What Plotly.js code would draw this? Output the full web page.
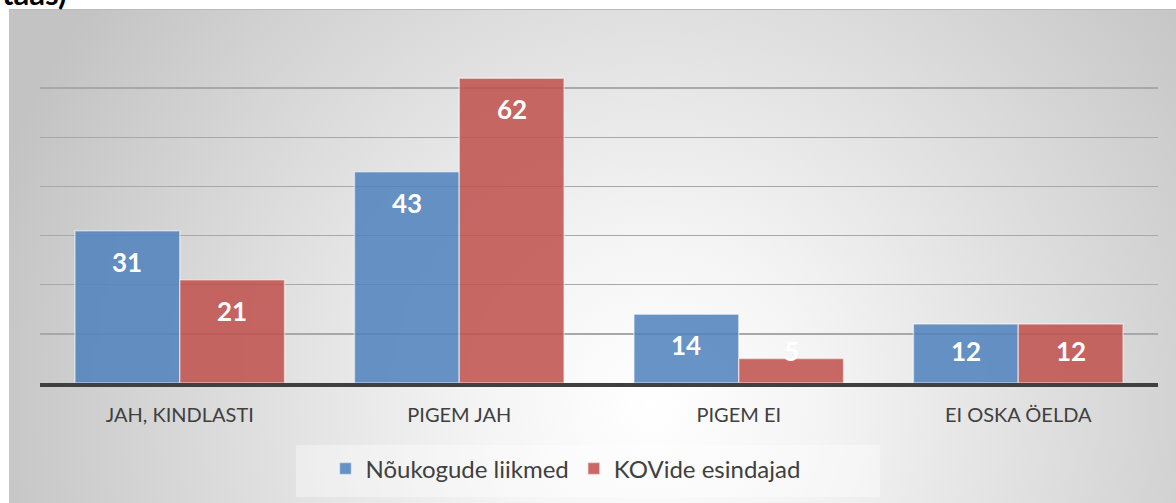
<!DOCTYPE html>
<html><head><meta charset="utf-8">
<script src="https://cdn.plot.ly/plotly-3.0.1.min.js"></script>
<style>
html,body{margin:0;padding:0;background:#fff;width:1176px;height:503px;overflow:hidden}
#bg{position:absolute;left:9px;top:9px;width:1167px;height:494px;background:radial-gradient(circle 690px at 55% 80%, #ffffff 0%, #f4f4f4 25%, #c3c3c3 100%);border-top:1px solid #bbbbbb;box-sizing:border-box}
#chart{position:absolute;left:0;top:0;width:1176px;height:503px}
</style></head><body>
<div id="bg"></div><div id="chart"></div>
<script>
const categories = ["JAH, KINDLASTI", "PIGEM JAH", "PIGEM EI", "EI OSKA ÖELDA"];
const seriesNames = ["Nõukogude liikmed", "KOVide esindajad"];
const noukogudeLiikmed = [31, 43, 14, 12];
const kovideEsindajad = [21, 62, 5, 12];
const titleFragment = "taas)";

const W = 1176, H = 503;
const M = {l: 40, r: 18, t: 39, b: 120};
const yMax = 70;
const bargap = 0.25;
const plotW = W - M.l - M.r, plotH = H - M.t - M.b;
const pxPerUnit = plotH / yMax;
const barW = plotW / categories.length * (1 - bargap) / 2;

const FONT = "Lato, 'Open Sans', sans-serif";
const colors = ["rgba(79,129,189,0.86)", "rgba(192,80,77,0.86)"];
const series = [noukogudeLiikmed, kovideEsindajad];

const traces = series.map((vals, s) => ({
  type: "bar",
  name: seriesNames[s],
  x: categories,
  y: vals,
  marker: {color: colors[s], line: {color: "rgba(255,255,255,0.5)", width: 1.5}},
  textposition: "none",
  hoverinfo: "skip"
}));

const annotations = [];
series.forEach((vals, s) => {
  vals.forEach((v, i) => {
    annotations.push({
      x: categories[i], y: 0, xref: "x", yref: "y",
      xshift: (s === 0 ? -1 : 1) * barW / 2,
      yshift: Math.max(v * pxPerUnit - 31, 32),
      yanchor: "middle", xanchor: "center",
      text: "<b>" + v + "</b>", showarrow: false,
      font: {family: FONT, size: 26, color: "#ffffff"}
    });
  });
});
annotations.push({
  xref: "paper", yref: "paper",
  x: -M.l / plotW, y: 1 + (M.t - 14) / plotH,
  xanchor: "left", yanchor: "bottom",
  text: "<b>" + titleFragment + "</b>", showarrow: false,
  font: {family: FONT, size: 31, color: "#000000"}
});

const legendBox = {
  type: "rect", xref: "paper", yref: "paper", layer: "below",
  x0: (296 - M.l) / plotW, x1: (880 - M.l) / plotW,
  y0: -(497 - (H - M.b)) / plotH, y1: -(445 - (H - M.b)) / plotH,
  fillcolor: "rgba(255,255,255,0.38)", line: {width: 0}
};

const layout = {
  width: W, height: H,
  margin: M,
  paper_bgcolor: "rgba(0,0,0,0)",
  plot_bgcolor: "rgba(0,0,0,0)",
  barmode: "group",
  bargap: bargap,
  bargroupgap: 0,
  showlegend: true,
  legend: {
    orientation: "h", xref: "paper", yref: "paper",
    x: 0.47, xanchor: "center", y: -0.25, yanchor: "middle",
    font: {family: FONT, size: 24, color: "#404040"},
    bgcolor: "rgba(0,0,0,0)",
    borderwidth: 0,
    itemclick: false
  },
  xaxis: {
    showline: true, linecolor: "#404040", linewidth: 3.5,
    ticks: "", ticklabelstandoff: 11,
    tickfont: {family: FONT, size: 20, color: "#404040"},
    showgrid: false, fixedrange: true
  },
  yaxis: {
    range: [0, yMax], dtick: 10, showticklabels: false,
    showgrid: true, gridcolor: "#a8a8a8", gridwidth: 1.3,
    zeroline: false, showline: false, fixedrange: true
  },
  shapes: [legendBox],
  annotations: annotations
};

Plotly.newPlot("chart", traces, layout, {displayModeBar: false, staticPlot: true});
</script>
</body></html>
